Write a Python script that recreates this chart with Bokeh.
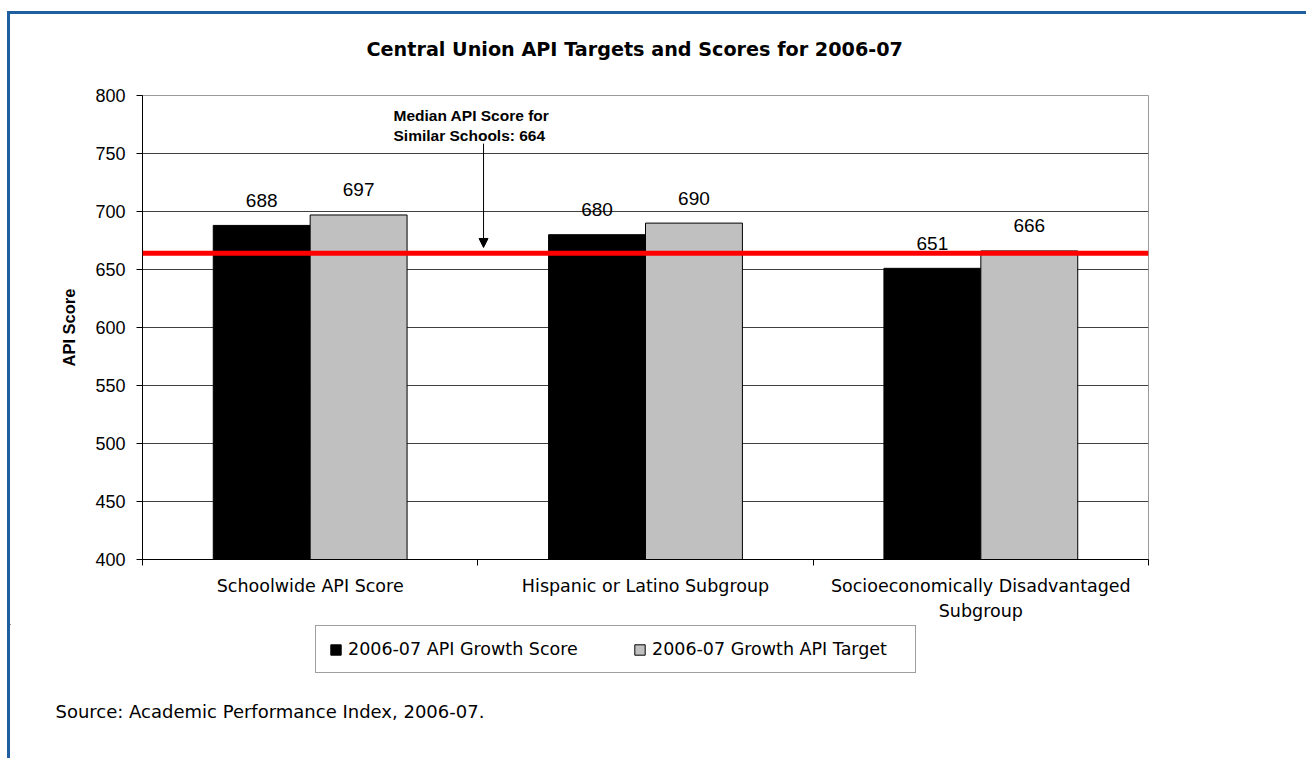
from bokeh.plotting import figure
from bokeh.layouts import column
from bokeh.models import (ColumnDataSource, Range1d, FixedTicker, Span, Label, LabelSet,
                          Arrow, NormalHead, Legend, LegendItem, Title)
from bokeh.core.properties import value
from bokeh.embed import file_html
from bokeh.resources import INLINE

# ---------------- data ----------------
title_text = "Central Union API Targets and Scores for 2006-07"
categories = ["Schoolwide API Score", "Hispanic or Latino Subgroup",
              "Socioeconomically Disadvantaged\nSubgroup"]
series_names = ["2006-07 API Growth Score", "2006-07 Growth API Target"]
growth_score = [688, 680, 651]
growth_target = [697, 690, 666]
median_similar = 664
y_ticks = [400, 450, 500, 550, 600, 650, 700, 750, 800]
y_label = "API Score"
source_text = "Source: Academic Performance Index, 2006-07."

# ---------------- styles ----------------
BLUE = "#1F5FA0"
SCORE_FILL, TARGET_FILL = "black", "#C0C0C0"
BAR_W = 0.289
W = 1296
H_MAIN = 610
H_FOOT = 134

idx = list(range(len(categories)))
src = ColumnDataSource(dict(
    x_score=[i - BAR_W / 2 for i in idx],
    x_target=[i + BAR_W / 2 for i in idx],
    score=growth_score,
    target=growth_target,
    score_lbl=[str(v) for v in growth_score],
    target_lbl=[str(v) for v in growth_target],
))

# ---------------- main chart ----------------
p = figure(width=W, height=H_MAIN,
           x_range=Range1d(-0.5, len(categories) - 0.5),
           y_range=Range1d(y_ticks[0], y_ticks[-1]),
           output_backend="svg", toolbar_location=None,
           min_border_left=132, min_border_right=158,
           min_border_top=80, min_border_bottom=H_MAIN - 545)
p.frame_align = False
p.background_fill_color = "white"
p.border_fill_color = "white"
p.outline_line_color = "#9a9a9a"
p.outline_line_width = 1

p.vbar(x="x_score", top="score", bottom=y_ticks[0], width=BAR_W, source=src,
       fill_color=SCORE_FILL, line_color="black", line_width=1)
p.vbar(x="x_target", top="target", bottom=y_ticks[0], width=BAR_W, source=src,
       fill_color=TARGET_FILL, line_color="black", line_width=1)

for xf, tf, lf in (("x_score", "score", "score_lbl"), ("x_target", "target", "target_lbl")):
    p.add_layout(LabelSet(x=xf, y=tf, text=lf, source=src, y_offset=25,
                          text_align="center", text_baseline="middle",
                          text_font=value("Liberation Sans"), text_font_size="19px",
                          text_color="black"))

# y axis
p.yaxis.ticker = FixedTicker(ticks=y_ticks)
p.yaxis.axis_label = y_label
p.yaxis.axis_label_text_font = "Liberation Sans"
p.yaxis.axis_label_text_font_style = "bold"
p.yaxis.axis_label_text_font_size = "16.5px"
p.yaxis.axis_label_text_color = "black"
p.yaxis.axis_label_standoff = 14
p.yaxis.major_label_text_font = "Liberation Sans"
p.yaxis.major_label_text_font_size = "18px"
p.yaxis.major_label_text_color = "black"
p.yaxis.major_label_standoff = 11
p.yaxis.major_tick_out = 6
p.yaxis.major_tick_in = 0
p.yaxis.minor_tick_line_color = None
p.yaxis.axis_line_color = "black"
p.yaxis.major_tick_line_color = "black"

# x axis: labels at category centres, tick marks at category boundaries
p.xaxis.ticker = FixedTicker(ticks=idx,
                             minor_ticks=[i - 0.5 for i in range(len(categories) + 1)])
p.xaxis.major_label_overrides = {i: c for i, c in enumerate(categories)}
p.xaxis.major_tick_line_color = None
p.xaxis.major_tick_out = 0
p.xaxis.major_tick_in = 0
p.xaxis.minor_tick_out = 6
p.xaxis.minor_tick_in = 0
p.xaxis.minor_tick_line_color = "black"
p.xaxis.axis_line_color = "black"
p.xaxis.major_label_text_font = "DejaVu Sans"
p.xaxis.major_label_text_font_size = "17.5px"
p.xaxis.major_label_text_color = "black"
p.xaxis.major_label_text_line_height = 1.28
p.xaxis.major_label_standoff = 10

p.xgrid.visible = False
p.ygrid.grid_line_color = "#404040"
p.ygrid.grid_line_width = 1

# median line, annotation, arrow
p.add_layout(Span(location=median_similar, dimension="width",
                  line_color="#FF0000", line_width=5))
p.add_layout(Label(x=0.2485, y=790,
                   text=f"Median API Score for\nSimilar Schools: {median_similar}",
                   text_align="left", text_baseline="top",
                   text_font="Liberation Sans", text_font_style="bold",
                   text_font_size="15.5px", text_line_height=1.16, text_color="black"))
p.add_layout(Arrow(x_start=0.517, y_start=758.5, x_end=0.517, y_end=669,
                   line_color="black", line_width=1,
                   end=NormalHead(size=9, fill_color="black", line_color="black")))

# title (spacer first = nearest the frame)
p.add_layout(Title(text=" ", text_font_size="1px", standoff=9), "above")
p.add_layout(Title(text=title_text, align="left", offset=224, vertical_align="middle",
                   standoff=44, text_font="DejaVu Sans", text_font_style="bold",
                   text_font_size="19.2px", text_color="black"), "above")

# ---------------- footer: legend + source ----------------
f = figure(width=W, height=H_FOOT, x_range=Range1d(0, W), y_range=Range1d(H_FOOT, 0),
           output_backend="svg", toolbar_location=None,
           x_axis_location=None, y_axis_location=None,
           min_border_left=0, min_border_right=0, min_border_top=0, min_border_bottom=0)
f.frame_align = False
f.grid.visible = False
f.outline_line_color = None
f.background_fill_color = "white"
f.border_fill_color = "white"

# legend proxies (zero-height bars, only their legend swatches show)
proxy = ColumnDataSource(dict(x=[0], top=[0]))
lr1 = f.vbar(x="x", top="top", bottom=0, width=1, source=proxy,
             fill_color=SCORE_FILL, line_color="black", line_width=1)
lr2 = f.vbar(x="x", top="top", bottom=0, width=1, source=proxy,
             fill_color=TARGET_FILL, line_color="black", line_width=1)

legend = Legend(items=[LegendItem(label=series_names[0], renderers=[lr1]),
                       LegendItem(label=series_names[1], renderers=[lr2])],
                location=(305, 85), orientation="horizontal",
                padding=13, spacing=35, label_standoff=6, margin=0,
                glyph_width=13, glyph_height=13, label_width=250,
                border_line_color="#404040", border_line_width=1,
                background_fill_color="white", background_fill_alpha=1,
                label_text_font="DejaVu Sans", label_text_font_size="17.5px",
                label_text_color="black")
f.add_layout(legend, "center")

f.add_layout(Label(x=45, y=87, text=source_text,
                   text_align="left", text_baseline="middle",
                   text_font="DejaVu Sans", text_font_size="18px", text_color="black"))

root = column(p, f, spacing=0,
              styles={"margin-left": "7px", "margin-top": "11px",
                      "border-top": f"3px solid {BLUE}",
                      "border-left": f"3px solid {BLUE}"})

open("out.html", "w").write(file_html(root, INLINE))
